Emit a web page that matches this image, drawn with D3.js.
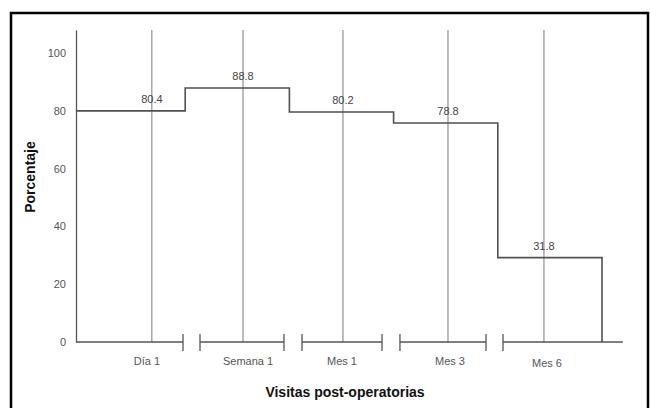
<!DOCTYPE html>
<html>
<head>
<meta charset="utf-8">
<script src="https://cdn.jsdelivr.net/npm/d3@7"></script>
<style>
  html, body { margin: 0; padding: 0; background: #fff; }
  svg { display: block; font-family: "Liberation Sans", Arial, sans-serif; }
</style>
</head>
<body>
<div id="chart"></div>
<script>
// ---- data ----
const categories = ["Día 1", "Semana 1", "Mes 1", "Mes 3", "Mes 6"];
// levels of the step line as drawn in the picture (percent)
const stepValues = [80.0, 87.9, 79.6, 75.8, 29.2];
// value labels printed on the chart
const valueLabels = ["80.4", "88.8", "80.2", "78.8", "31.8"];
// position of each visit line, in category units along the time axis
const visitPos = [0.68, 1.555, 2.514, 3.522, 4.443];
// position of each category label, in category units
const labelPos = [0.633, 1.603, 2.505, 3.541, 4.472];
// broken x-axis segments [start, end], in category units
const axisSegments = [[-0.048, 0.979], [1.142, 1.948], [2.121, 2.889], [3.061, 3.887], [4.05, 5.2]];
const yTicks = [0, 20, 40, 60, 80, 100];
const yTitle = "Porcentaje";
const xTitle = "Visitas post-operatorias";

// ---- layout ----
const W = 650, H = 408;
const svg = d3.select("#chart").append("svg").attr("width", W).attr("height", H);

// outer frame
svg.append("rect")
  .attr("x", 11).attr("y", 13).attr("width", 637).attr("height", 430)
  .attr("fill", "none").attr("stroke", "#000").attr("stroke-width", 2.5);

const x0 = 76, x1 = 602;
const xBand = d3.scaleBand().domain(categories).range([81, x1]).padding(0);
const xu = d3.scaleLinear().domain([0, 5]).range([81, x1]);
const y = d3.scaleLinear().domain([0, 108]).range([342, 30]);

// vertical visit lines
svg.append("g").selectAll("line").data(visitPos).join("line")
  .attr("x1", d => xu(d)).attr("x2", d => xu(d))
  .attr("y1", y(0)).attr("y2", y(108))
  .attr("stroke", "#7a7a7a").attr("stroke-width", 1);

// y axis
const yAxis = svg.append("g").attr("transform", `translate(${x0},0)`)
  .call(d3.axisLeft(y).tickValues(yTicks).tickSize(0).tickSizeOuter(0).tickPadding(10));
yAxis.select(".domain").attr("stroke", "#555").attr("stroke-width", 1.3);
yAxis.selectAll("text").attr("font-size", 11).attr("fill", "#555")
  .attr("font-family", "Liberation Sans, Arial, sans-serif");

// broken x axis
const segG = svg.append("g");
axisSegments.forEach((s, i) => {
  const sx = i === 0 ? x0 : xu(s[0]);
  const ex = xu(s[1]);
  segG.append("line").attr("x1", sx).attr("x2", ex).attr("y1", y(0)).attr("y2", y(0))
    .attr("stroke", "#555").attr("stroke-width", 1.5);
  if (i > 0) segG.append("line").attr("x1", sx).attr("x2", sx).attr("y1", y(0) - 8).attr("y2", y(0) + 9)
    .attr("stroke", "#555").attr("stroke-width", 1.3);
  if (i < axisSegments.length - 1) segG.append("line").attr("x1", ex).attr("x2", ex).attr("y1", y(0) - 8).attr("y2", y(0) + 9)
    .attr("stroke", "#555").attr("stroke-width", 1.3);
});

// category labels
svg.append("g").selectAll("text").data(categories).join("text")
  .attr("x", (d, i) => xu(labelPos[i]))
  .attr("y", (d, i) => y(0) + 23 + (i === 4 ? 2 : 0))
  .attr("text-anchor", "middle").attr("font-size", 11).attr("fill", "#555")
  .text(d => d);

// step line
const pts = [[x0, stepValues[0]]];
categories.forEach((c, i) => { if (i > 0) pts.push([xBand(c), stepValues[i]]); });
pts.push([x1, stepValues[stepValues.length - 1]]);
pts.push([x1, 0]);
const line = d3.line().x(d => d[0]).y(d => y(d[1])).curve(d3.curveStepAfter);
svg.append("path").attr("d", line(pts))
  .attr("fill", "none").attr("stroke", "#505050").attr("stroke-width", 1.6);

// value labels
svg.append("g").selectAll("text").data(valueLabels).join("text")
  .attr("x", (d, i) => xu(visitPos[i]))
  .attr("y", (d, i) => y(stepValues[i]) - 8)
  .attr("text-anchor", "middle").attr("font-size", 11).attr("fill", "#444")
  .text(d => d);

// axis titles
svg.append("text").attr("x", 345).attr("y", 397).attr("text-anchor", "middle")
  .attr("font-size", 14).attr("font-weight", "bold").attr("fill", "#111").text(xTitle);
svg.append("text").attr("transform", "translate(35,177) rotate(-90)").attr("text-anchor", "middle")
  .attr("font-size", 14).attr("font-weight", "bold").attr("fill", "#111").text(yTitle);
</script>
</body>
</html>
